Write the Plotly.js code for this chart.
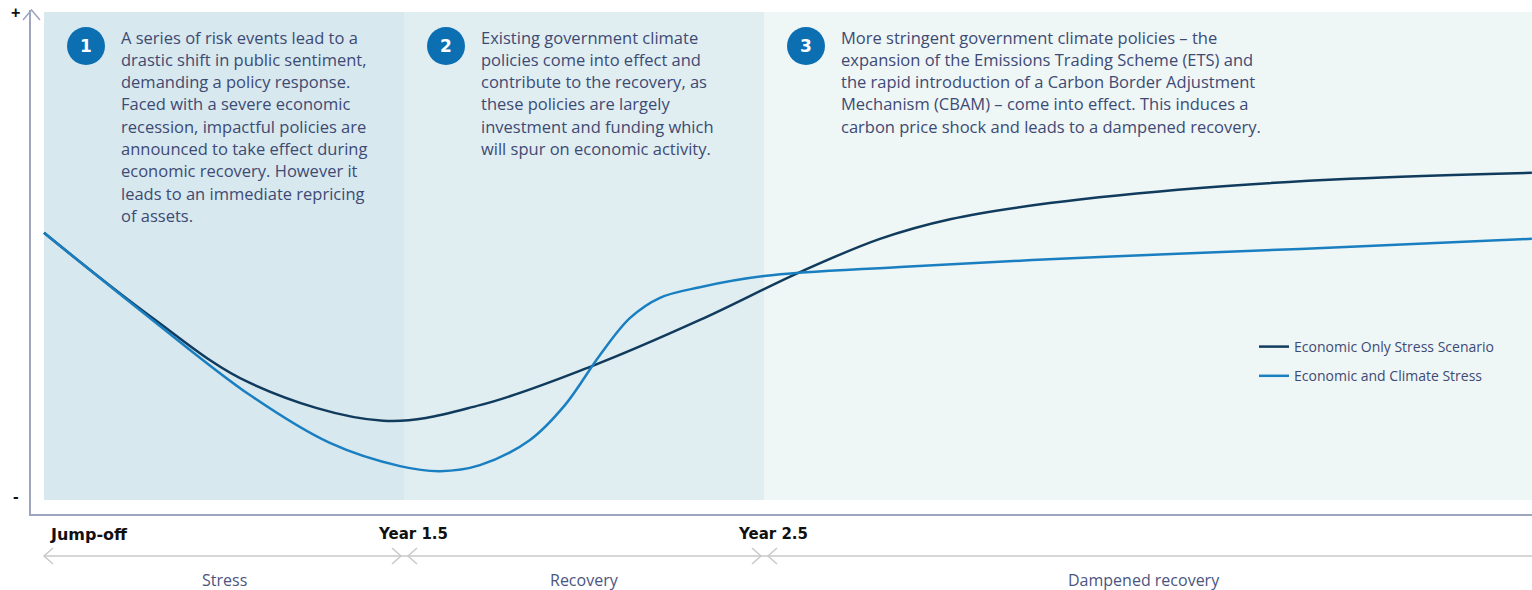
<!DOCTYPE html>
<html>
<head>
<meta charset="utf-8">
<script src="https://cdn.plot.ly/plotly-3.0.1.min.js"></script>
<style>html,body{margin:0;padding:0;background:#fff;}#chart{width:1532px;height:590px;}</style>
</head>
<body>
<div id="chart"></div>
<script>
// ---- Data (x in phase units: 0 = Jump-off, 1 = Year 1.5, 2 = Year 2.5) ----
const seriesNames = ['Economic Only Stress Scenario', 'Economic and Climate Stress'];
const econX = [0, 0.294, 0.572, 0.942, 1.211, 1.517, 1.822, 2.1, 2.322, 2.517, 2.794, 3.211, 3.628, 4.133];
const econY = [55.8, 39.3, 26.0, 18.5, 21.6, 29.2, 38.5, 48.0, 54.6, 58.5, 61.7, 64.7, 66.5, 67.7];
const climX = [0, 0.294, 0.572, 0.794, 0.989, 1.1, 1.211, 1.35, 1.447, 1.544, 1.628, 1.711, 1.822, 2.0, 2.378, 2.933, 3.489, 4.133];
const climY = [55.8, 38.9, 23.6, 14.1, 9.5, 8.5, 9.7, 14.7, 21.6, 31.5, 38.9, 42.9, 45.0, 47.2, 49.0, 51.0, 52.6, 54.6];

const milestones = ['Jump-off', 'Year 1.5', 'Year 2.5'];
const milestoneX = [0, 1, 2];
const phases = ['Stress', 'Recovery', 'Dampened recovery'];
const phaseStart = [0, 1, 2];
const phaseEnd = [1, 2, 4.133];
const phaseColors = ['#d7e8ee', '#e0eef2', '#eef6f6'];

const badgeNums = ['1', '2', '3'];
const blockText = [
  ['A series of risk events lead to a', 'drastic shift in public sentiment,', 'demanding a policy response.', 'Faced with a severe economic', 'recession, impactful policies are', 'announced to take effect during', 'economic recovery. However it', 'leads to an immediate repricing', 'of assets.'],
  ['Existing government climate', 'policies come into effect and', 'contribute to the recovery, as', 'these policies are largely', 'investment and funding which', 'will spur on economic activity.'],
  ['More stringent government climate policies \u2013 the', 'expansion of the Emissions Trading Scheme (ETS) and', 'the rapid introduction of a Carbon Border Adjustment', 'Mechanism (CBAM) \u2013 come into effect. This induces a', 'carbon price shock and leads to a dampened recovery.']
];

// ---- Layout helpers (pixel -> paper) ----
const L = 31, R = 1532, T = 10, B = 514;
const PX = p => (p - L) / (R - L);
const PY = p => (B - p) / (B - T);
const xPerPx = 1 / 360;

const axisColor = '#9ea6bf';
const textColor = '#3e4a74';
const labelFont = '"Open Sans", Lato, sans-serif';

const traces = [
  {x: econX, y: econY, name: seriesNames[0], type: 'scatter', mode: 'lines',
   line: {color: '#113b5d', width: 2.5, shape: 'spline', smoothing: 1}, legendgroup: 'a'},
  {x: climX, y: climY, name: seriesNames[1], type: 'scatter', mode: 'lines',
   line: {color: '#1a7fc1', width: 2.5, shape: 'spline', smoothing: 1}, legendgroup: 'b'}
];

const shapes = [];
const annotations = [];

// shaded phase backgrounds
phases.forEach((p, i) => {
  shapes.push({type: 'rect', xref: 'x', yref: 'paper', x0: phaseStart[i], x1: phaseEnd[i],
    y0: PY(500), y1: PY(12), fillcolor: phaseColors[i], line: {width: 0}, layer: 'below'});
});

// y axis arrow head
shapes.push({type: 'path', xref: 'paper', yref: 'paper',
  path: `M ${PX(23)},${PY(20)} L ${PX(31.5)},${PY(10)} L ${PX(40)},${PY(20)}`,
  line: {color: axisColor, width: 1.5}});

// phase arrow row
const rowY = PY(556), armY = 8 / (B - T);
shapes.push({type: 'line', xref: 'x', yref: 'paper', x0: 0, x1: 4.133, y0: rowY, y1: rowY,
  line: {color: '#c9c9c9', width: 1.5}});
const chevron = (tip, dir) => {
  const bx = tip + dir * 9 * xPerPx;
  shapes.push({type: 'path', xref: 'x', yref: 'paper',
    path: `M ${bx},${rowY + armY} L ${tip},${rowY} L ${bx},${rowY - armY}`,
    line: {color: '#c9c9c9', width: 1.5}});
};
phases.forEach((p, i) => {
  chevron(phaseStart[i] + (i === 0 ? 0 : 4 * xPerPx), 1);
  if (i < 2) chevron(phaseEnd[i] - 3 * xPerPx, -1);
  annotations.push({xref: 'x', yref: 'paper', x: (phaseStart[i] + phaseEnd[i]) / 2 - (i === 2 ? 0.01 : 0),
    y: PY(580), text: p, showarrow: false, xanchor: 'center', yanchor: 'middle',
    font: {family: labelFont, size: 16, color: '#4b5580'}});
});

// milestone labels
milestones.forEach((m, i) => {
  annotations.push({xref: 'x', yref: 'paper', x: milestoneX[i], y: PY(534), text: '<b>' + m + '</b>',
    showarrow: false, xanchor: i === 0 ? 'left' : 'center', xshift: i === 0 ? 4 : 9, yanchor: 'middle',
    font: {family: '"DejaVu Sans", sans-serif', size: i === 0 ? 16 : 15, color: '#111111'}});
});

// + and - markers on y axis
annotations.push({xref: 'paper', yref: 'paper', x: PX(15), y: PY(13), text: '<b>+</b>', showarrow: false,
  xanchor: 'center', yanchor: 'middle', font: {family: 'Arial, sans-serif', size: 16, color: '#111'}});
annotations.push({xref: 'paper', yref: 'paper', x: PX(16), y: PY(496), text: '<b>-</b>', showarrow: false,
  xanchor: 'center', yanchor: 'middle', font: {family: 'Arial, sans-serif', size: 17, color: '#111'}});

// numbered badges and text blocks
const badgeCx = [86, 446, 806];
badgeNums.forEach((n, i) => {
  const cx = badgeCx[i], cy = 46, r = 19;
  shapes.push({type: 'circle', xref: 'paper', yref: 'paper', x0: PX(cx - r), x1: PX(cx + r),
    y0: PY(cy + r), y1: PY(cy - r), fillcolor: '#0b6fb2', line: {width: 0}});
  annotations.push({xref: 'paper', yref: 'paper', x: PX(cx), y: PY(cy), text: '<b>' + n + '</b>',
    showarrow: false, xanchor: 'center', yanchor: 'middle',
    font: {family: '"DejaVu Sans", sans-serif', size: 17, color: '#ffffff'}});
  blockText[i].forEach((line, j) => {
    annotations.push({xref: 'paper', yref: 'paper', x: PX(cx + 33), y: PY(37 + j * 22.3), text: line,
      showarrow: false, xanchor: 'left', yanchor: 'middle',
      font: {family: labelFont, size: 16.5, color: textColor}});
  });
});

const layout = {
  width: 1532, height: 590,
  margin: {l: L, r: 0, t: T, b: 590 - B, pad: 0},
  paper_bgcolor: '#ffffff', plot_bgcolor: '#ffffff',
  showlegend: true,
  legend: {x: PX(1254), y: PY(331), xanchor: 'left', yanchor: 'top', bgcolor: 'rgba(0,0,0,0)',
    traceorder: 'grouped', tracegroupgap: 8,
    font: {family: labelFont, size: 14, color: textColor}},
  xaxis: {range: [-13 / 360, 1501 / 360 - 13 / 360], showgrid: false, zeroline: false, showticklabels: false,
    ticks: '', showline: true, linecolor: axisColor, linewidth: 2, fixedrange: true},
  yaxis: {range: [0, 100], showgrid: false, zeroline: false, showticklabels: false,
    ticks: '', showline: true, linecolor: axisColor, linewidth: 2, fixedrange: true},
  shapes: shapes,
  annotations: annotations
};

Plotly.newPlot('chart', traces, layout, {displayModeBar: false, staticPlot: true});
</script>
</body>
</html>
